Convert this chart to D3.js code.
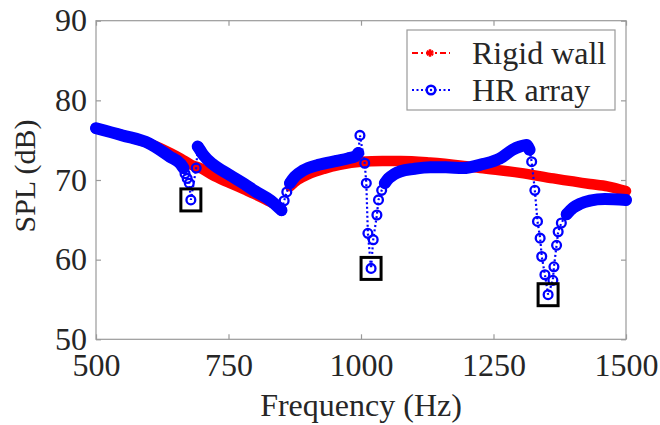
<!DOCTYPE html>
<html>
<head>
<meta charset="utf-8">
<script src="https://cdn.jsdelivr.net/npm/d3@7"></script>
<style>
  body { margin: 0; background: #fff; }
  svg text { font-family: "Liberation Serif", "Times New Roman", serif; fill: #262626; }
</style>
</head>
<body>
<svg width="660" height="425"></svg>
<script>
var width = 660;
var height = 425;
var margin = {left: 96, right: 34, top: 20.7, bottom: 85.7};

// rigid wall (red)
var rigidFreq = [500, 550, 600, 640, 660, 680, 700, 720, 753, 780, 800, 830, 845, 850, 855, 866, 880, 900, 930, 960, 1000, 1040, 1075, 1130, 1190, 1225, 1300, 1363, 1432, 1465, 1500];
var rigidSPL  = [76.5, 75.6, 74.6, 73.4, 72.7, 71.9, 71.4, 70.6, 69.6, 68.8, 68.2, 67.2, 66.6, 66.2, 67.2, 69.2, 70.0, 70.7, 71.4, 71.9, 72.3, 72.4, 72.4, 72.2, 71.8, 71.5, 70.9, 70.2, 69.5, 69.2, 68.6];

// HR array (blue)
var hrFreq = [500, 550, 600, 640, 660, 665, 668, 672, 676, 679, 689, 692, 697, 703, 720, 753, 780, 800, 830, 850, 855, 860, 866, 875, 891, 920, 954, 975, 990, 995, 998, 1007, 1010, 1013, 1019, 1023, 1030, 1033, 1039, 1045, 1052, 1062, 1075, 1100, 1131, 1160, 1192, 1230, 1262, 1286, 1300, 1312, 1318, 1322, 1328, 1333, 1338, 1341, 1347, 1353, 1362, 1364, 1369, 1372, 1378, 1388, 1400, 1413, 1432, 1460, 1500];
var hrSPL  = [76.5, 75.6, 74.6, 72.9, 72.0, 71.5, 70.8, 70.2, 69.6, 67.5, 71.5, 74.2, 73.7, 73.1, 72.0, 70.6, 69.5, 68.6, 67.4, 66.2, 67.4, 68.5, 69.6, 70.4, 71.2, 71.9, 72.4, 72.7, 73.0, 73.4, 75.6, 72.1, 69.6, 63.3, 58.9, 62.5, 65.6, 67.5, 68.7, 69.6, 70.2, 70.7, 71.1, 71.4, 71.6, 71.6, 71.5, 72.0, 72.7, 73.8, 74.2, 74.4, 73.8, 72.3, 68.7, 64.8, 62.7, 60.4, 58.1, 55.6, 57.4, 59.1, 61.8, 63.5, 64.6, 65.7, 66.5, 67.0, 67.4, 67.6, 67.5];

// squares drawn round the three dips
var boxFreq = [679, 1019, 1353];

var xTicks = [500, 750, 1000, 1250, 1500];
var yTicks = [50, 60, 70, 80, 90];

var rigid = rigidFreq.map((f, i) => ({f: f, v: rigidSPL[i]}));
var hr = hrFreq.map((f, i) => ({f: f, v: hrSPL[i]}));

var xScale = d3.scaleLinear().domain([500, 1500]).range([margin.left, width - margin.right]);
var yScale = d3.scaleLinear().domain([50, 90]).range([height - margin.bottom, margin.top]);

var svg = d3.select("svg");
var font = "32px";

// split a series into runs where neighbouring points sit close (dense markers merge into a band)
function denseRuns(data) {
    var runs = [], cur = [data[0]];
    for (var i = 1; i < data.length; i++) {
        var dx = Math.abs(xScale(data[i].f) - xScale(data[i-1].f));
        var dy = Math.abs(yScale(data[i].v) - yScale(data[i-1].v));
        if (dy <= dx + 2) {
            cur.push(data[i]);
        } else {
            if (cur.length > 1) runs.push(cur);
            cur = [data[i]];
        }
    }
    if (cur.length > 1) runs.push(cur);
    return runs;
}

var line = d3.line().x(d => xScale(d.f)).y(d => yScale(d.v));
var band = d3.line().x(d => xScale(d.f)).y(d => yScale(d.v)).curve(d3.curveMonotoneX);

// frame
svg.append("rect")
    .attr("x", margin.left).attr("y", margin.top)
    .attr("width", width - margin.left - margin.right)
    .attr("height", height - margin.top - margin.bottom)
    .attr("fill", "none").attr("stroke", "#9a9a9a").attr("stroke-width", 1.2);

// axes
svg.append("g")
    .attr("transform", `translate(0,${height - margin.bottom})`)
    .call(d3.axisBottom(xScale).tickValues(xTicks).tickFormat(d3.format("d"))
        .tickSizeInner(-5).tickSizeOuter(0).tickPadding(14));
svg.append("g")
    .attr("transform", `translate(0,${margin.top})`)
    .call(d3.axisTop(xScale).tickValues(xTicks).tickSizeInner(-5).tickSizeOuter(0).tickFormat(""));
svg.append("g")
    .attr("transform", `translate(${margin.left},0)`)
    .call(d3.axisLeft(yScale).tickValues(yTicks).tickSizeInner(-5).tickSizeOuter(0).tickPadding(9));
svg.append("g")
    .attr("transform", `translate(${width - margin.right},0)`)
    .call(d3.axisRight(yScale).tickValues(yTicks).tickSizeInner(-5).tickSizeOuter(0).tickFormat(""));

svg.selectAll(".domain").remove();
svg.selectAll(".tick line").attr("stroke", "#9a9a9a").attr("stroke-width", 1.2);
svg.selectAll(".tick text").style("font-size", font).attr("fill", "#262626");

// rigid wall: dense markers read as a solid band
denseRuns(rigid).forEach(run => {
    svg.append("path").datum(run)
        .attr("d", band)
        .attr("fill", "none").attr("stroke", "#ff0000")
        .attr("stroke-width", 10.5).attr("stroke-linejoin", "round").attr("stroke-linecap", "round");
});

// HR array band
denseRuns(hr).forEach(run => {
    svg.append("path").datum(run)
        .attr("d", band)
        .attr("fill", "none").attr("stroke", "#0000ff")
        .attr("stroke-width", 12).attr("stroke-linejoin", "round").attr("stroke-linecap", "round");
});

// HR dotted line + circles
svg.append("path").datum(hr)
    .attr("d", line)
    .attr("fill", "none").attr("stroke", "#0000ff")
    .attr("stroke-width", 2.2).attr("stroke-dasharray", "2,2.5");

svg.append("g").selectAll("circle")
    .data(hr)
    .enter()
    .append("circle")
    .attr("cx", d => xScale(d.f))
    .attr("cy", d => yScale(d.v))
    .attr("r", 4.4)
    .attr("fill", "none").attr("stroke", "#0000ff").attr("stroke-width", 2.3);

// boxes around the dips
svg.append("g").selectAll("rect")
    .data(boxFreq.map(f => hr.find(d => d.f === f)))
    .enter()
    .append("rect")
    .attr("x", d => xScale(d.f) - 10)
    .attr("y", d => yScale(d.v) - 11)
    .attr("width", 20).attr("height", 22)
    .attr("fill", "none").attr("stroke", "#000").attr("stroke-width", 3);

// axis labels
svg.append("text")
    .attr("x", (margin.left + width - margin.right) / 2)
    .attr("y", 416)
    .attr("text-anchor", "middle")
    .style("font-size", font)
    .text("Frequency (Hz)");

svg.append("text")
    .attr("transform", "translate(35,176) rotate(-90)")
    .attr("text-anchor", "middle")
    .style("font-size", "30px")
    .text("SPL (dB)");

// legend
var legend = svg.append("g");
legend.append("rect")
    .attr("x", 407).attr("y", 30).attr("width", 208).attr("height", 80)
    .attr("fill", "#fff").attr("stroke", "#9a9a9a").attr("stroke-width", 1.2);

legend.append("line")
    .attr("x1", 412).attr("x2", 450).attr("y1", 53).attr("y2", 53)
    .attr("stroke", "#ff0000").attr("stroke-width", 2.2).attr("stroke-dasharray", "6,3,2,3");
legend.append("path")
    .attr("d", d3.symbol().type(d3.symbolAsterisk).size(40))
    .attr("transform", "translate(430,53)")
    .attr("fill", "none").attr("stroke", "#ff0000").attr("stroke-width", 2.5);

legend.append("line")
    .attr("x1", 412).attr("x2", 450).attr("y1", 90).attr("y2", 90)
    .attr("stroke", "#0000ff").attr("stroke-width", 2.2).attr("stroke-dasharray", "2,2.5");
legend.append("circle")
    .attr("cx", 431).attr("cy", 90).attr("r", 4.3)
    .attr("fill", "#fff").attr("stroke", "#0000ff").attr("stroke-width", 2.5);
legend.append("circle")
    .attr("cx", 431).attr("cy", 90).attr("r", 1.2).attr("fill", "#0000ff");

legend.append("text").attr("x", 472).attr("y", 63.5).style("font-size", font).text("Rigid wall");
legend.append("text").attr("x", 472).attr("y", 100.5).style("font-size", font).text("HR array");
</script>
</body>
</html>
